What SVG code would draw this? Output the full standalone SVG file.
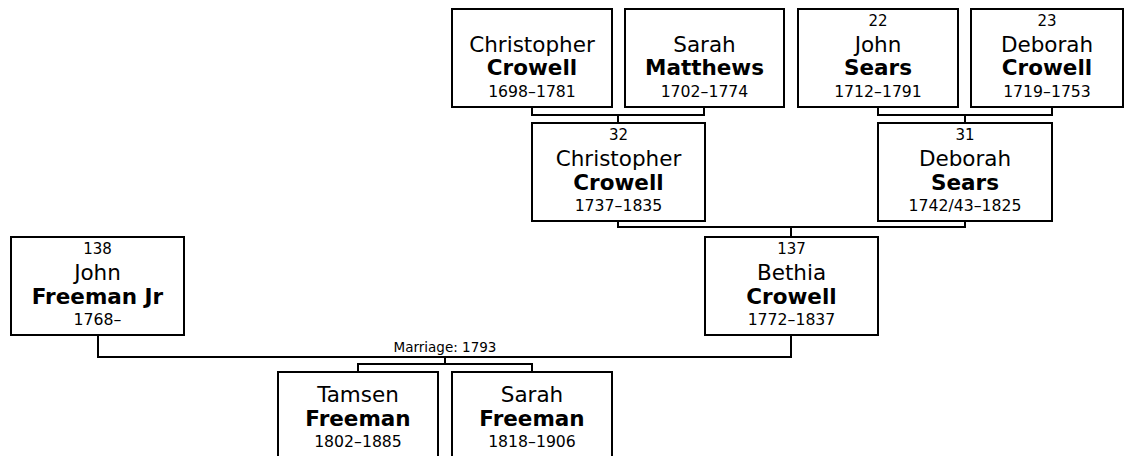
<svg xmlns="http://www.w3.org/2000/svg" width="1131" height="456" viewBox="0 0 1131 456">
<style>
rect.box{fill:#fff;stroke:#000;stroke-width:2}
text{font-family:"DejaVu Sans","Verdana",sans-serif;fill:#000;text-anchor:middle}
.num{font-size:15px}
.nm{font-size:21.5px}
.sn{font-size:21.5px;font-weight:bold}
.dt{font-size:15.7px}
.lbl{font-size:13.5px}
#connectors path{fill:none;stroke:#000;stroke-width:2}
</style>
<rect width="1131" height="456" fill="#fff"/>
<g id="connectors">
<path d="M532 107V115H704V107M618 115V123"/>
<path d="M878 107V115H1052V107M965 115V123"/>
<path d="M618 221V227H965V221M791 227V237"/>
<path d="M98 335V357H791V335M445 357V364M358 372V364H532V372"/>
<text class="lbl" x="445" y="352">Marriage: 1793</text>
</g>
<g id="n1"><rect class="box" x="452" y="9" width="160" height="98"/>
<text class="nm" x="532" y="52">Christopher</text><text class="sn" x="532" y="75">Crowell</text><text class="dt" x="532" y="97">1698–1781</text></g>
<g id="n2"><rect class="box" x="625" y="9" width="159" height="98"/>
<text class="nm" x="704.5" y="52">Sarah</text><text class="sn" x="704.5" y="75">Matthews</text><text class="dt" x="704.5" y="97">1702–1774</text></g>
<g id="n22"><rect class="box" x="798" y="9" width="160" height="98"/>
<text class="num" x="878" y="26">22</text><text class="nm" x="878" y="52">John</text><text class="sn" x="878" y="75">Sears</text><text class="dt" x="878" y="97">1712–1791</text></g>
<g id="n23"><rect class="box" x="971" y="9" width="152" height="98"/>
<text class="num" x="1047" y="26">23</text><text class="nm" x="1047" y="52">Deborah</text><text class="sn" x="1047" y="75">Crowell</text><text class="dt" x="1047" y="97">1719–1753</text></g>
<g id="n32"><rect class="box" x="532" y="123" width="173" height="98"/>
<text class="num" x="618.5" y="140">32</text><text class="nm" x="618.5" y="166">Christopher</text><text class="sn" x="618.5" y="190">Crowell</text><text class="dt" x="618.5" y="211">1737–1835</text></g>
<g id="n31"><rect class="box" x="878" y="123" width="174" height="98"/>
<text class="num" x="965" y="140">31</text><text class="nm" x="965" y="166">Deborah</text><text class="sn" x="965" y="190">Sears</text><text class="dt" x="965" y="211">1742/43–1825</text></g>
<g id="n138"><rect class="box" x="11" y="237" width="173" height="98"/>
<text class="num" x="97.5" y="254">138</text><text class="nm" x="97.5" y="280">John</text><text class="sn" x="97.5" y="304">Freeman Jr</text><text class="dt" x="97.5" y="325">1768–</text></g>
<g id="n137"><rect class="box" x="705" y="237" width="173" height="98"/>
<text class="num" x="791.5" y="254">137</text><text class="nm" x="791.5" y="280">Bethia</text><text class="sn" x="791.5" y="304">Crowell</text><text class="dt" x="791.5" y="325">1772–1837</text></g>
<g id="tamsen"><rect class="box" x="278" y="372" width="160" height="98"/>
<text class="nm" x="358" y="402">Tamsen</text><text class="sn" x="358" y="426">Freeman</text><text class="dt" x="358" y="447">1802–1885</text></g>
<g id="sarah"><rect class="box" x="452" y="372" width="160" height="98"/>
<text class="nm" x="532" y="402">Sarah</text><text class="sn" x="532" y="426">Freeman</text><text class="dt" x="532" y="447">1818–1906</text></g>
</svg>
